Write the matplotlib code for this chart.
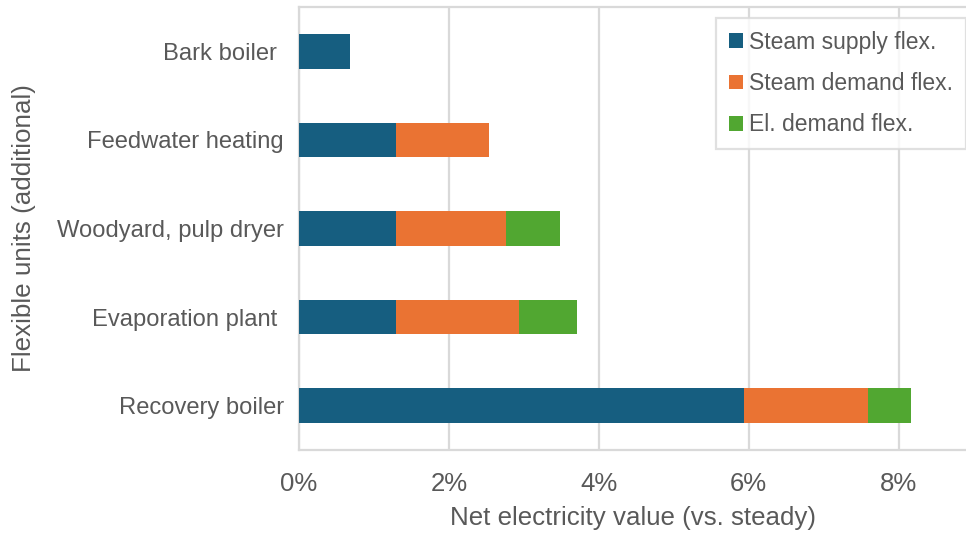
import matplotlib
matplotlib.use("Agg")
import matplotlib.pyplot as plt
from matplotlib.patches import Patch
from matplotlib.ticker import FuncFormatter

# Flexible units, bottom to top
units = ["Recovery boiler", "Evaporation plant ", "Woodyard, pulp dryer",
         "Feedwater heating", "Bark boiler "]

# Net electricity value contributions (% vs. steady operation)
steam_supply = [5.94, 1.29, 1.29, 1.29, 0.68]
steam_demand = [1.65, 1.64, 1.47, 1.24, 0.0]
el_demand = [0.58, 0.78, 0.72, 0.0, 0.0]

series_names = ["Steam supply flex.", "Steam demand flex.", "El. demand flex."]
colors = ["#165E80", "#EA7333", "#51A731"]
xticks = [0, 2, 4, 6, 8]

plt.rcParams["font.family"] = ["Liberation Sans", "DejaVu Sans"]
text_color = "#595959"
grid_color = "#D9D9D9"

fig = plt.figure(figsize=(9.66, 5.36), dpi=100)
ax = fig.add_axes([299 / 966, 1 - 450 / 536, 1 - 299 / 966, 443 / 536])

y = list(range(len(units)))
h = 0.39
left = [0.0] * len(units)
for vals, name, col in zip([steam_supply, steam_demand, el_demand], series_names, colors):
    ax.barh(y, vals, height=h, left=left, color=col, label=name, zorder=3)
    left = [l + v for l, v in zip(left, vals)]

ax.set_xlim(0, 8.9)
ax.set_ylim(-0.5, 4.5)
ax.set_xticks(xticks)
ax.xaxis.set_major_formatter(FuncFormatter(lambda v, p: f"{v:.0f}%"))
ax.set_yticks(y)
ax.set_yticklabels(units)

ax.grid(axis="x", color=grid_color, linewidth=1.6, zorder=0)
ax.tick_params(axis="both", length=0, colors=text_color)
ax.tick_params(axis="y", pad=11, labelsize=17.1)
ax.tick_params(axis="x", pad=16, labelsize=18.5)

for side in ["left", "bottom", "top"]:
    ax.spines[side].set_color(grid_color)
    ax.spines[side].set_linewidth(1.6)
ax.spines["right"].set_visible(False)

ax.set_xlabel("Net electricity value (vs. steady)", fontsize=18.6, color=text_color, labelpad=7)
ax.set_ylabel("Flexible units (additional)", fontsize=18.7, color=text_color, labelpad=15)

handles = [Patch(facecolor=c, edgecolor="none") for c in colors]
leg = ax.legend(handles, series_names, loc="upper right", bbox_to_anchor=(1.0, 0.975),
                fontsize=16.5, frameon=True, fancybox=False, handlelength=0.6,
                handleheight=0.6, handletextpad=0.3, labelspacing=0.8,
                borderpad=0.55, borderaxespad=0.0)
leg.get_frame().set_edgecolor(grid_color)
leg.get_frame().set_linewidth(1.6)
for t in leg.get_texts():
    t.set_color(text_color)

fig.savefig("out.png", dpi=100)
